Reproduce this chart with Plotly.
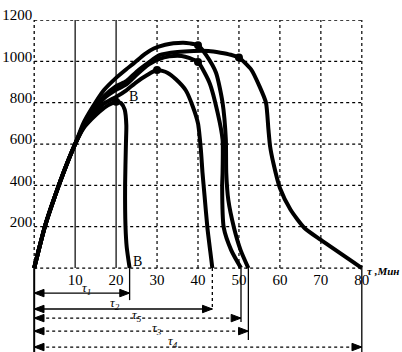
import plotly.graph_objects as go

# ---------------- data ----------------
x_ticks = [10, 20, 30, 40, 50, 60, 70, 80]
y_ticks = [200, 400, 600, 800, 1000, 1200]

# common heating branch 0 -> 10 min
rise_x = [0, 1.2, 2.6, 4.2, 6, 8, 10]
rise_t = [0, 95, 200, 298, 400, 505, 600]

# curve ending at tau1 (point B)
c1_x = [12, 14, 16, 18, 20, 21.2, 22.1, 22.5, 22.4, 22.2, 22.3, 22.6, 23.3]
c1_t = [675, 720, 758, 787, 805, 798, 767, 690, 600, 400, 200, 100, 0]

# curve ending at tau2 (knee at 30 min)
c2_x = [12, 14, 17, 20, 22.5, 25, 27.5, 30, 32.5, 34.6, 37, 38.7, 40, 40.7, 41.1, 41.6, 42.3, 43, 43.5]
c2_t = [680, 735, 795, 828, 860, 900, 933, 958, 945, 913, 860, 783, 700, 573, 461, 350, 194, 80, 0]

# curve ending at tau5 (knee at 40 min, 1000 C)
c5_x = [12, 14, 17, 20, 22.5, 25, 28, 30.6, 33, 36, 38, 40, 42.8, 44.8, 46, 46, 45.9, 46.3, 48.1, 50.5]
c5_t = [685, 745, 820, 862, 888, 935, 985, 1012, 1024, 1026, 1015, 997, 897, 751, 621, 460, 395, 194, 87, 0]

# curve ending at tau3 (top curve, knee at 40 min)
c3_x = [12, 14, 17, 20, 22.5, 24.3, 27, 29.2, 32, 34, 36.4, 38, 40, 42, 44.4, 46, 46.8, 46.9, 47.4, 48.8, 50.4, 52.3]
c3_t = [700, 770, 860, 920, 962, 990, 1035, 1062, 1080, 1087, 1090, 1087, 1078, 1030, 945, 800, 621, 460, 330, 194, 87, 0]

# curve ending at tau4 (knee at 50 min)
c4_x = [12, 14, 17, 20, 22.5, 25, 28, 30.6, 35, 39, 42.5, 45.5, 48, 50, 53, 55, 56.6, 57.2, 57.6, 58.4, 60, 62.6, 66, 70, 80]
c4_t = [690, 750, 830, 880, 904, 950, 995, 1030, 1045, 1050, 1050, 1042, 1032, 1018, 960, 880, 800, 670, 589, 508, 387, 282, 194, 136, 0]

# knee points (dots)
knee_x = [20, 30, 40, 40, 50]
knee_t = [805, 958, 997, 1078, 1018]

# process durations
tau_labels = ["τ<sub>1</sub>", "τ<sub>2</sub>", "τ<sub>5</sub>", "τ<sub>3</sub>", "τ<sub>4</sub>"]
tau_end = [23.3, 43.5, 50.5, 52.3, 80]

# ---------------- layout constants ----------------
X_RANGE = [-2, 82]
Y_RANGE = [-406, 1200]
row_y = [-121, -198, -242, -305, -382]          # arrow rows below the axis
row_dash = ["solid", "solid", "dot", "dot", "dot"]
drop_to = [-155, -203, -261, -348, -406]        # lower ends of the drop lines
drop_dash = ["solid", "dot", "solid", "solid", "solid"]
label_pos = [(12.8, -99), (19.7, -171), (25.0, -227), (29.9, -290), (33.9, -357)]
HEAD_LEN = 2.4     # arrowhead length in x units
HEAD_HALF = 18     # arrowhead half height in y units

SERIF = "Liberation Serif, Times New Roman, serif"

fig = go.Figure()

# grid
vdash = {10: "solid", 20: "solid"}
for v in x_ticks:
    fig.add_shape(type="line", x0=v, x1=v, y0=0, y1=max(y_ticks),
                  line=dict(color="black", width=1.2, dash=vdash.get(v, "dot")), layer="below")
for h in [0] + y_ticks:
    fig.add_shape(type="line", x0=0, x1=max(x_ticks), y0=h, y1=h,
                  line=dict(color="black", width=1.3, dash="dot"), layer="below")
fig.add_shape(type="line", x0=0, x1=0, y0=0, y1=max(y_ticks),
              line=dict(color="black", width=1.3, dash="dot"), layer="below")
fig.add_shape(type="line", x0=0, x1=0, y0=Y_RANGE[0], y1=0,
              line=dict(color="black", width=2))

# curves
for cx, ct in [(c1_x, c1_t), (c2_x, c2_t), (c5_x, c5_t), (c3_x, c3_t), (c4_x, c4_t)]:
    fig.add_trace(go.Scatter(x=rise_x + cx, y=rise_t + ct, mode="lines",
                             line=dict(color="black", width=4, shape="spline", smoothing=0.6),
                             hoverinfo="skip"))
fig.add_trace(go.Scatter(x=knee_x, y=knee_t, mode="markers",
                         marker=dict(color="black", size=8), hoverinfo="skip"))

# duration arrows
for i, te in enumerate(tau_end):
    ry = row_y[i]
    fig.add_shape(type="line", x0=0, x1=te, y0=ry, y1=ry,
                  line=dict(color="black", width=1.3, dash=row_dash[i]))
    fig.add_shape(type="line", x0=te, x1=te, y0=0, y1=drop_to[i],
                  line=dict(color="black", width=1.3, dash=drop_dash[i]))
    for tip, back in [(0, HEAD_LEN), (te, te - HEAD_LEN)]:
        fig.add_trace(go.Scatter(x=[tip, back, back, tip], y=[ry, ry + HEAD_HALF, ry - HEAD_HALF, ry],
                                 mode="lines", fill="toself", fillcolor="black",
                                 line=dict(color="black", width=1), hoverinfo="skip"))
    lx, ly = label_pos[i]
    fig.add_annotation(x=lx, y=ly, text="<i>" + tau_labels[i] + "</i>", showarrow=False,
                       font=dict(family=SERIF, size=13, color="black"))

# texts
fig.add_annotation(x=24.2, y=829, text="B", showarrow=False,
                   font=dict(family=SERIF, size=14, color="black"))
fig.add_annotation(x=25.3, y=30, text="B", showarrow=False,
                   font=dict(family=SERIF, size=14, color="black"))
fig.add_annotation(x=-3.4, y=-73, text="0", showarrow=False,
                   font=dict(family=SERIF, size=15, color="black"))
fig.add_annotation(x=0.8, y=1262, text="<i>t°c</i>", showarrow=False, xanchor="left",
                   font=dict(family=SERIF, size=13, color="black"))
fig.add_annotation(x=80.8, y=-16, text="<i><b>τ ,Мин</b></i>", showarrow=False, xanchor="left",
                   font=dict(family=SERIF, size=11, color="black"))

fig.update_layout(
    width=402, height=352,
    margin=dict(l=26, r=32, t=20, b=0),
    paper_bgcolor="white", plot_bgcolor="white",
    showlegend=False,
    xaxis=dict(range=X_RANGE, anchor="free", position=(0 - Y_RANGE[0]) / (Y_RANGE[1] - Y_RANGE[0]),
               tickvals=x_ticks, ticktext=[str(v) for v in x_ticks],
               showgrid=False, zeroline=False, showline=False, ticks="",
               tickfont=dict(family=SERIF, size=15, color="black"),
               automargin=False, ticklabelstandoff=1),
    yaxis=dict(range=Y_RANGE, anchor="free", position=(0 - X_RANGE[0]) / (X_RANGE[1] - X_RANGE[0]),
               tickvals=y_ticks, ticktext=[str(v) for v in y_ticks],
               showgrid=False, zeroline=False, showline=False, ticks="",
               tickfont=dict(family=SERIF, size=15, color="black"),
               automargin=False, ticklabelshift=-5, ticklabelstandoff=2),
)

fig.write_html("out.html")
